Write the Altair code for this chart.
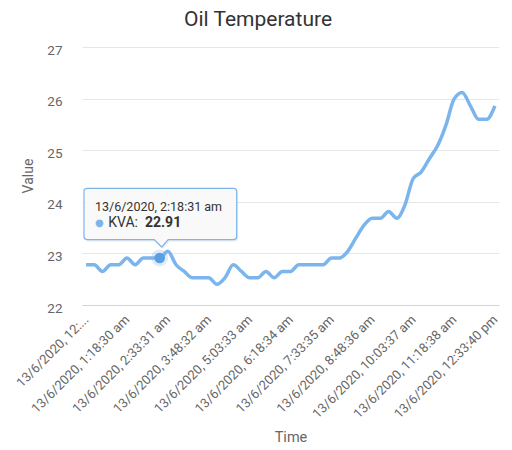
import json
import altair as alt
import pandas as pd

chart_title = "Oil Temperature"
series_name = "KVA"
x_title = "Time"
y_title = "Value"

# one reading every ~15 minutes, 13/6/2020 12:03 am .. 12:33 pm
values = [
    22.78, 22.78, 22.65, 22.78, 22.78, 22.91, 22.78, 22.91, 22.91, 22.91,
    23.04, 22.78, 22.65, 22.53, 22.53, 22.53, 22.40, 22.53, 22.78, 22.65,
    22.53, 22.53, 22.65, 22.53, 22.65, 22.65, 22.78, 22.78, 22.78, 22.78,
    22.91, 22.91, 23.04, 23.30, 23.55, 23.68, 23.68, 23.81, 23.68, 23.94,
    24.45, 24.58, 24.84, 25.09, 25.48, 25.99, 26.12, 25.86, 25.60, 25.60,
    25.86,
]
tick_positions = [0, 5, 10, 15, 20, 25, 30, 35, 40, 45, 50]
tick_labels = [
    "13/6/2020, 12:...",
    "13/6/2020, 1:18:30 am",
    "13/6/2020, 2:33:31 am",
    "13/6/2020, 3:48:32 am",
    "13/6/2020, 5:03:33 am",
    "13/6/2020, 6:18:34 am",
    "13/6/2020, 7:33:35 am",
    "13/6/2020, 8:48:36 am",
    "13/6/2020, 10:03:37 am",
    "13/6/2020, 11:18:38 am",
    "13/6/2020, 12:33:40 pm",
]
y_ticks = [22, 23, 24, 25, 26, 27]
hover_index = 9
hover_time = "13/6/2020, 2:18:31 am"

df = pd.DataFrame({"idx": list(range(len(values))), "value": values})
hover = pd.DataFrame({
    "idx": [hover_index],
    "value": [values[hover_index]],
    "header": [hover_time],
    "name": [series_name + ": "],
    "val": [f"{values[hover_index]:.2f}"],
    "dot": ["\u25CF"],
})
title_df = pd.DataFrame({"t": [chart_title]})

LINE = "#7cb5ec"
label_map = {str(p): l for p, l in zip(tick_positions, tick_labels)}
label_expr = json.dumps(label_map) + "[toString(round(datum.value))]"

x_enc = alt.X(
    "idx:Q",
    scale=alt.Scale(domain=[-0.5, len(values) - 0.5], nice=False, zero=False),
    axis=alt.Axis(
        values=tick_positions, labelExpr=label_expr, labelAngle=-45,
        labelAlign="right", labelBaseline="middle", labelFontSize=13,
        labelColor="#666666", labelPadding=12, labelOverlap=False,
        labelFlush=False, labelLimit=300,
        domain=True, domainColor="#ccd6eb", domainWidth=1,
        ticks=False, tickSize=0, grid=False,
        title=x_title, titleFontSize=14.5, titleColor="#666666",
        titleFontWeight="normal", titleY=132, titleBaseline="middle",
    ),
)
y_enc = alt.Y(
    "value:Q",
    scale=alt.Scale(domain=[22, 27], nice=False, zero=False),
    axis=alt.Axis(
        values=y_ticks, grid=True, gridColor="#e6e6e6", gridWidth=1,
        domain=False, ticks=False, tickSize=0, labelPadding=20,
        labelFontSize=13.5, labelColor="#666666", labelOffset=3,
        title=y_title, titleFontSize=14, titleColor="#666666",
        titleFontWeight="normal", titleX=-53.5, titleY=128.5,
        titleBaseline="middle",
    ),
)

line = alt.Chart(df).mark_line(
    color=LINE, strokeWidth=3.5, interpolate="monotone"
).encode(x=x_enc, y=y_enc)

halo = alt.Chart(hover).mark_circle(
    size=290, color=LINE, opacity=0.25
).encode(x=x_enc, y=y_enc)
marker = alt.Chart(hover).mark_circle(
    size=113, color="#5c9ee6", opacity=1
).encode(x=x_enc, y=y_enc)


def callout_path():
    L, R, T, B, r = -75.7, 77.0, -69.7, -18.5, 3.0
    pts = [
        ("M", (L + r, T)), ("L", (R - r, T)), ("Q", (R, T, R, T + r)),
        ("L", (R, B - r)), ("Q", (R, B, R - r, B)), ("L", (8.5, B)),
        ("L", (2.0, -11.0)), ("L", (-5.5, B)), ("L", (L + r, B)),
        ("Q", (L, B, L, B - r)), ("L", (L, T + r)), ("Q", (L, T, L + r, T)),
    ]
    out = []
    for cmd, c in pts:
        out.append(cmd + " ".join(f"{v / 100:.4f}" for v in c))
    return "".join(out) + "Z"


path = callout_path()
shadow = alt.Chart(hover).mark_point(
    shape=path, size=40000, filled=True, fill="#000000", opacity=1,
    fillOpacity=0.07, strokeWidth=0, xOffset=1.5, yOffset=2
).encode(x=x_enc, y=y_enc)
box = alt.Chart(hover).mark_point(
    shape=path, size=40000, filled=True, fill="#f9f9f9", opacity=1,
    fillOpacity=0.97, stroke=LINE, strokeWidth=1.2
).encode(x=x_enc, y=y_enc)

header = alt.Chart(hover).mark_text(
    align="left", baseline="middle", dx=-64.7, dy=-51.3,
    fontSize=12.5, color="#333333", font="Roboto"
).encode(x=x_enc, y=y_enc, text="header:N")
dot = alt.Chart(hover).mark_text(
    align="center", baseline="middle", dx=-60.4, dy=-34.7,
    fontSize=10, color=LINE, font="DejaVu Sans"
).encode(x=x_enc, y=y_enc, text="dot:N")
name = alt.Chart(hover).mark_text(
    align="left", baseline="middle", dx=-51.4, dy=-34.7,
    fontSize=14, color="#333333", font="Roboto"
).encode(x=x_enc, y=y_enc, text="name:N")
val = alt.Chart(hover).mark_text(
    align="left", baseline="middle", dx=-14.7, dy=-34.7,
    fontSize=14, fontWeight="bold", color="#333333", font="Roboto"
).encode(x=x_enc, y=y_enc, text="val:N")

# chart title, placed in the band above the plot area
title_mark = alt.Chart(title_df).mark_text(
    align="center", baseline="alphabetic", fontSize=21, color="#333333",
    font="Roboto"
).encode(x=alt.value(176), y=alt.value(-21), text="t:N")

chart = alt.layer(
    line, halo, marker, shadow, box, header, dot, name, val, title_mark
).properties(
    width=417,
    height=258,
    autosize=alt.AutoSizeParams(type="none"),
    padding={"left": 74, "top": 39, "right": 5, "bottom": 141},
).configure(
    font="Roboto",
    background="white",
).configure_view(stroke=None)

chart.save("out.html", embed_options={"renderer": "svg", "actions": False})
